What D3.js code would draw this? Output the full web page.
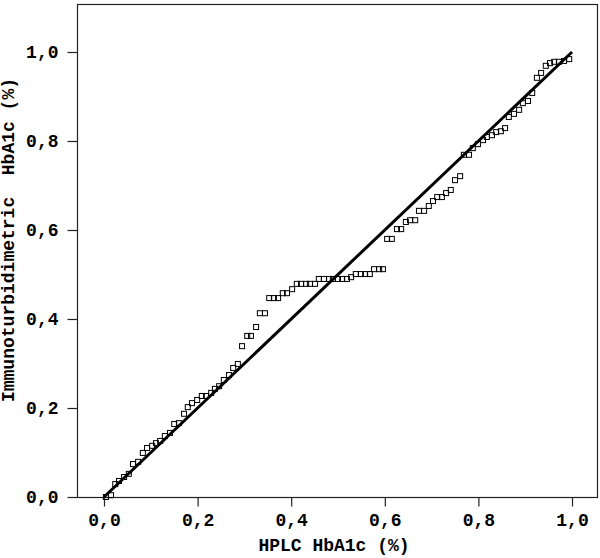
<!DOCTYPE html>
<html>
<head>
<meta charset="utf-8">
<script src="https://cdn.jsdelivr.net/npm/d3@7"></script>
<style>
  html, body { margin: 0; padding: 0; background: #fff; }
  svg { display: block; }
  text { font-family: "Liberation Mono", "DejaVu Sans Mono", monospace; font-weight: bold; fill: #000; }
</style>
</head>
<body>
<script>
// Observed cumulative proportions (P-P plot)
const hplcX = [0.004,0.015,0.024,0.032,0.043,0.053,0.062,0.073,0.083,0.092,
  0.103,0.111,0.120,0.130,0.141,0.150,0.160,0.171,0.179,0.188,
  0.199,0.209,0.218,0.229,0.237,0.246,0.256,0.267,0.276,0.286,
  0.295,0.306,0.314,0.325,0.333,0.344,0.353,0.363,0.372,0.382,
  0.391,0.402,0.412,0.421,0.432,0.440,0.451,0.459,0.470,0.481,
  0.489,0.500,0.509,0.519,0.528,0.538,0.549,0.558,0.568,0.577,
  0.588,0.596,0.605,0.615,0.626,0.635,0.645,0.654,0.665,0.673,
  0.684,0.694,0.703,0.712,0.722,0.731,0.741,0.750,0.761,0.769,
  0.780,0.788,0.799,0.810,0.818,0.829,0.838,0.848,0.857,0.865,
  0.876,0.887,0.895,0.906,0.915,0.925,0.934,0.944,0.953,0.962,
  0.972,0.983,0.994];
const immunoY = [0.000,0.004,0.029,0.036,0.045,0.052,0.074,0.079,0.099,0.110,
  0.115,0.121,0.126,0.137,0.144,0.164,0.166,0.187,0.202,0.211,
  0.218,0.227,0.227,0.234,0.243,0.249,0.263,0.274,0.290,0.299,
  0.339,0.362,0.362,0.382,0.413,0.413,0.447,0.447,0.447,0.458,
  0.458,0.467,0.479,0.479,0.479,0.479,0.479,0.490,0.490,0.490,
  0.490,0.490,0.490,0.490,0.494,0.501,0.501,0.501,0.501,0.512,
  0.512,0.512,0.580,0.580,0.602,0.602,0.618,0.622,0.622,0.643,
  0.643,0.654,0.665,0.674,0.674,0.683,0.690,0.712,0.721,0.769,
  0.769,0.784,0.793,0.802,0.809,0.813,0.820,0.822,0.829,0.854,
  0.861,0.870,0.885,0.890,0.908,0.942,0.953,0.969,0.975,0.978,
  0.978,0.980,0.984];
const refLine = [0, 1];
const tickValues = [0, 0.2, 0.4, 0.6, 0.8, 1.0];
const tickLabels = ["0,0", "0,2", "0,4", "0,6", "0,8", "1,0"];
const xTitle = "HPLC HbA1c (%)";
const yTitle = "Immunoturbidimetric  HbA1c (%)";

const W = 600, H = 558;
const frame = { left: 77, right: 597, top: 4, bottom: 497 };

const svg = d3.select("body").append("svg")
  .attr("width", W).attr("height", H);

const x = d3.scaleLinear().domain([0, 1]).range([104, 572]);
const y = d3.scaleLinear().domain([0, 1]).range([497, 52]);

// frame
svg.append("rect")
  .attr("x", frame.left + 0.5).attr("y", frame.top + 0.5)
  .attr("width", frame.right - frame.left).attr("height", frame.bottom - frame.top)
  .attr("fill", "none").attr("stroke", "#222").attr("stroke-width", 1.2);

const fmt = d => tickLabels[tickValues.indexOf(d)];

const xAxis = svg.append("g")
  .attr("transform", `translate(0,${frame.bottom + 0.5})`)
  .call(d3.axisBottom(x).tickValues(tickValues).tickFormat(fmt).tickSize(9).tickPadding(7));
const yAxis = svg.append("g")
  .attr("transform", `translate(${frame.left + 0.5},0)`)
  .call(d3.axisLeft(y).tickValues(tickValues).tickFormat(fmt).tickSize(10).tickPadding(9));

[xAxis, yAxis].forEach(g => {
  g.select(".domain").remove();
  g.selectAll(".tick line").attr("stroke", "#222").attr("stroke-width", 1.2);
  g.selectAll(".tick text").attr("font-size", 18).style("font-family", '"Liberation Mono", monospace').style("font-weight", "bold").attr("fill", "#000");
});

// reference line
svg.append("line")
  .attr("x1", x(refLine[0])).attr("y1", y(refLine[0]))
  .attr("x2", x(refLine[1])).attr("y2", y(refLine[1]))
  .attr("stroke", "#000").attr("stroke-width", 3);

// points
const pts = hplcX.map((v, i) => ({ x: v, y: immunoY[i] }));
const s = 5;
svg.append("g").selectAll("rect").data(pts).join("rect")
  .attr("x", d => x(d.x) - s / 2).attr("y", d => y(d.y) - s / 2)
  .attr("width", s).attr("height", s)
  .attr("fill", "#fff").attr("fill-opacity", 0).attr("stroke", "#000").attr("stroke-width", 1);

// titles
svg.append("text")
  .attr("x", 334).attr("y", 551)
  .attr("text-anchor", "middle").attr("font-size", 18)
  .text(xTitle);
svg.append("text")
  .attr("transform", `translate(14,240) rotate(-90)`)
  .attr("text-anchor", "middle").attr("font-size", 18)
  .attr("xml:space", "preserve").style("white-space", "pre")
  .text(yTitle);
</script>
</body>
</html>
